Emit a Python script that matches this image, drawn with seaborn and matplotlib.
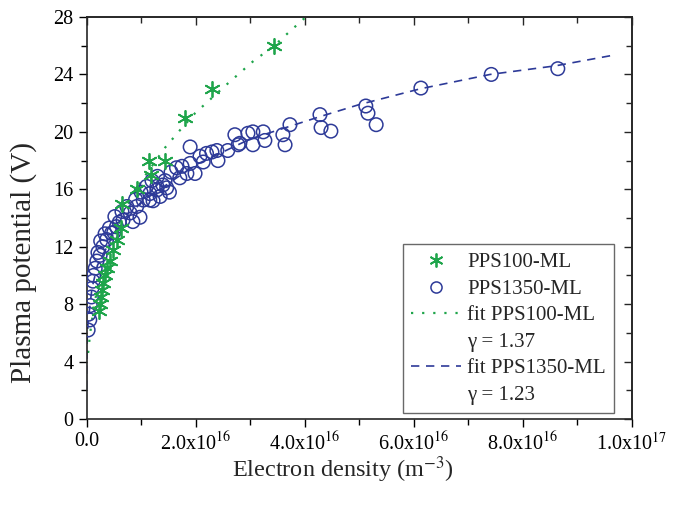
import seaborn as sns
import matplotlib.pyplot as plt
import numpy as np
import pandas as pd
from matplotlib.lines import Line2D
from matplotlib.ticker import MultipleLocator, NullFormatter

# PPS100-ML measured points (density in 1e16 m^-3, potential in V)
pps100_n = [0.22, 0.25, 0.26, 0.28, 0.30, 0.34, 0.38, 0.43, 0.48, 0.55, 0.63,
            0.65, 0.93, 1.18, 1.15, 1.44, 1.81, 2.30, 3.44]
pps100_v = [7.5, 8.0, 8.5, 9.0, 9.5, 10.0, 10.5, 11.0, 11.8, 12.5, 13.3,
            15.0, 16.0, 17.0, 18.0, 18.0, 21.0, 23.0, 26.0]

# PPS1350-ML measured points
pps1350_n = [0.03, 0.06, 0.04, 0.07, 0.09, 0.10, 0.12, 0.13, 0.16, 0.19, 0.25,
             0.21, 0.30, 0.26, 0.37, 0.34, 0.46, 0.42, 0.55, 0.50, 0.60, 0.67,
             0.52, 0.65, 0.74, 0.80, 0.85, 0.92, 0.98, 0.90, 1.04, 1.00, 1.16,
             1.10, 1.29, 1.40, 1.16, 1.35, 1.29, 1.47, 1.44, 1.20, 1.30, 1.55,
             1.65, 1.71, 1.84, 1.99, 1.90, 1.75, 2.08, 2.14, 2.20, 2.30, 2.39,
             2.41, 1.90, 2.59, 2.72, 2.78, 2.81, 2.96, 3.05, 3.05, 3.24, 3.27,
             3.60, 3.64, 3.73, 4.28, 4.30, 4.48, 5.12, 5.16, 5.31, 6.13, 7.42,
             8.64, 1.22, 1.52]
pps1350_v = [6.2, 6.9, 7.3, 7.9, 8.5, 9.1, 9.6, 10.0, 10.5, 11.0, 11.4,
             11.6, 12.0, 12.4, 12.5, 12.9, 12.95, 13.3, 13.4, 13.0, 13.7, 13.85,
             14.1, 14.45, 14.8, 14.35, 13.75, 14.8, 14.05, 15.3, 15.25, 15.8, 15.7,
             16.2, 15.95, 16.3, 15.25, 15.5, 16.2, 16.1, 16.6, 16.6, 16.9, 17.2,
             17.5, 16.8, 17.1, 17.1, 17.8, 17.6, 18.3, 17.9, 18.5, 18.6, 18.7,
             18.0, 18.95, 18.7, 19.8, 19.1, 19.2, 19.9, 20.0, 19.1, 20.0, 19.4,
             19.8, 19.1, 20.5, 21.2, 20.3, 20.05, 21.8, 21.3, 20.5, 23.05, 24.0,
             24.4, 15.2, 15.8]

# fit curves
fit100_n = [0.03, 0.064, 0.15, 0.30, 0.46, 0.67, 1.01, 1.44, 1.71, 1.99,
            2.57, 3.05, 3.44, 3.67, 4.02]
fit100_v = [4.6, 5.9, 8.2, 10.5, 12.4, 14.35, 16.6, 18.9, 20.1, 21.3,
            23.3, 24.9, 26.0, 26.8, 28.0]
fit1350_n = [0.0002, 0.002, 0.01, 0.03, 0.1, 0.2, 0.5, 1.0, 2.0, 3.0, 4.27,
             5.0, 6.12, 7.4, 8.6, 9.6]
fit1350_v = [2.1, 3.5, 5.4, 6.8, 9.1, 10.7, 12.9, 15.1, 17.7, 19.5, 21.05,
             21.9, 23.0, 24.0, 24.6, 25.3]

labels = ['PPS100-ML', 'PPS1350-ML', 'fit PPS100-ML', '\u03b3 = 1.37',
          'fit PPS1350-ML', '\u03b3 = 1.23']

green = '#1fa54b'
blue = '#2d3a98'

df100 = pd.DataFrame({'n': np.array(pps100_n) * 1e16, 'V': pps100_v})
df1350 = pd.DataFrame({'n': np.array(pps1350_n) * 1e16, 'V': pps1350_v})
fit100 = pd.DataFrame({'n': np.array(fit100_n) * 1e16, 'V': fit100_v})
fit1350 = pd.DataFrame({'n': np.array(fit1350_n) * 1e16, 'V': fit1350_v})

sns.set_style("ticks")
plt.rcParams['font.family'] = ['Liberation Serif', 'DejaVu Serif']
plt.rcParams['mathtext.fontset'] = 'stix'

fig, ax = plt.subplots(figsize=(6.82, 5.08), dpi=100)
fig.subplots_adjust(left=86.5 / 682, right=632 / 682, bottom=1 - 419 / 508, top=1 - 17 / 508)

sns.lineplot(data=fit1350, x='n', y='V', color=blue, lw=1.2, ls=(0, (5, 4)), ax=ax)
sns.lineplot(data=fit100, x='n', y='V', color=green, lw=1.6, ls=(0, (1, 4)), ax=ax)
sns.scatterplot(data=df1350, x='n', y='V', marker='o', s=95, facecolors='none',
                edgecolor=blue, linewidth=1.1, ax=ax, zorder=3)
sns.scatterplot(data=df100, x='n', y='V', marker=(6, 2, 0), s=120, color=green,
                edgecolor=green, linewidth=1.3, ax=ax, zorder=4)

ax.set_xlim(0, 1e17)
ax.set_ylim(0, 28)
ax.xaxis.set_minor_locator(MultipleLocator(1e16))
ax.yaxis.set_major_locator(MultipleLocator(4))
ax.yaxis.set_minor_locator(MultipleLocator(2))
ax.set_xticks([0, 2e16, 4e16, 6e16, 8e16, 1e17])
ax.set_xticklabels(['0.0', '2.0x10$^{16}$', '4.0x10$^{16}$', '6.0x10$^{16}$',
                    '8.0x10$^{16}$', '1.0x10$^{17}$'])
ax.tick_params(which='both', direction='out', labelsize=14.5, width=1, colors='black')
ax.tick_params(which='major', length=6)
ax.tick_params(which='minor', length=4)
for sp in ax.spines.values():
    sp.set_linewidth(1.2)

# mirror ticks pointing inward on top and right
top = ax.secondary_xaxis('top')
top.set_xticks([0, 2e16, 4e16, 6e16, 8e16, 1e17])
top.xaxis.set_minor_locator(MultipleLocator(1e16))
top.xaxis.set_major_formatter(NullFormatter())
top.tick_params(which='both', direction='in', width=1)
top.tick_params(which='major', length=6)
top.tick_params(which='minor', length=4)
top.spines['top'].set_linewidth(1.2)
right = ax.secondary_yaxis('right')
right.set_yticks(range(0, 29, 4))
right.yaxis.set_minor_locator(MultipleLocator(2))
right.yaxis.set_major_formatter(NullFormatter())
right.tick_params(which='both', direction='in', width=1)
right.tick_params(which='major', length=6)
right.tick_params(which='minor', length=4)
right.spines['right'].set_linewidth(1.2)

ax.set_xlabel('Electron density (m$^{-3}$)', fontsize=17.5)
ax.set_ylabel('Plasma potential (V)', fontsize=21)
ax.xaxis.set_label_coords(0.47, -0.088)
ax.yaxis.set_label_coords(-0.09, 0.39)

handles = [
    Line2D([], [], marker=(6, 2, 0), ls='none', color=green, ms=10, mew=1.3),
    Line2D([], [], marker='o', ls='none', mfc='none', mec=blue, ms=8, mew=1.1),
    Line2D([], [], ls=(0, (1, 4)), color=green, lw=1.6),
    Line2D([], [], ls='none'),
    Line2D([], [], ls=(0, (5, 4)), color=blue, lw=1.2),
    Line2D([], [], ls='none'),
]
leg = ax.legend(handles, labels, loc='lower left', bbox_to_anchor=(0.58, 0.015),
                borderaxespad=0, fontsize=15, frameon=True, fancybox=False,
                edgecolor='#444444', handlelength=2.4, labelspacing=0.33,
                borderpad=0.4, handletextpad=0.3)
leg.get_frame().set_linewidth(1.0)

fig.savefig('out.png', dpi=100)
